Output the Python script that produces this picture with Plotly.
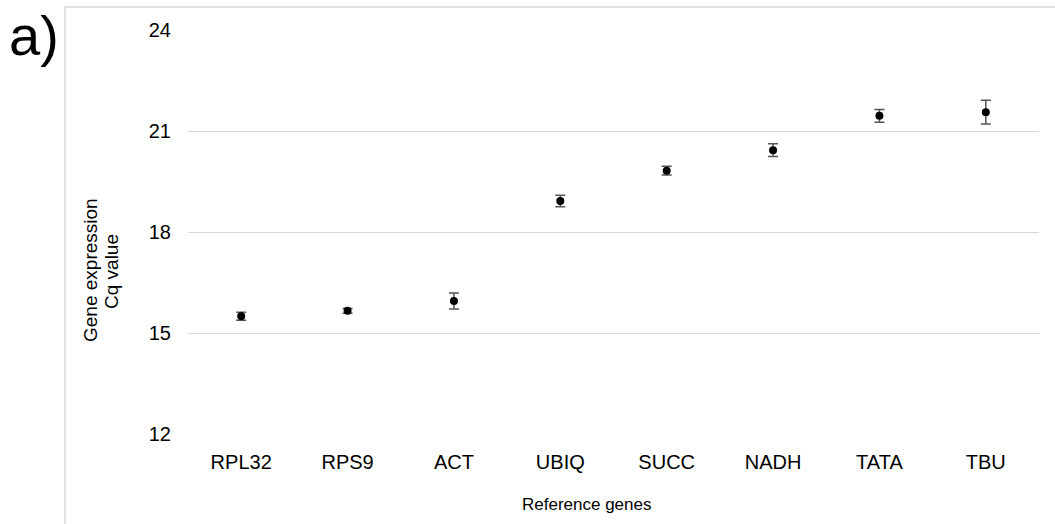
import plotly.graph_objects as go

genes = ["RPL32", "RPS9", "ACT", "UBIQ", "SUCC", "NADH", "TATA", "TBU"]
cq_mean = [15.50, 15.66, 15.95, 18.92, 19.82, 20.43, 21.45, 21.56]
cq_err = [0.12, 0.07, 0.24, 0.17, 0.13, 0.19, 0.19, 0.35]
y_ticks = [12, 15, 18, 21, 24]

FONT = "Liberation Sans, Arial, sans-serif"

L, R, T, B = 188, 16, 30, 90
W, H = 1055, 524
PW, PH = W - L - R, H - T - B


def px(x):
    return (x - L) / PW


def py(y):
    return (H - B - y) / PH


fig = go.Figure()
fig.add_trace(go.Scatter(
    x=genes, y=cq_mean, mode="markers",
    marker=dict(color="black", size=8),
    error_y=dict(type="data", array=cq_err, visible=True,
                 color="#555555", thickness=1.5, width=5),
    showlegend=False,
))

fig.update_layout(
    width=W, height=H,
    margin=dict(l=L, r=R, t=T, b=B),
    plot_bgcolor="white", paper_bgcolor="white",
    font=dict(family=FONT, color="black", size=16),
    xaxis=dict(
        range=[-0.5, 7.5], showgrid=False, zeroline=False, showline=False,
        ticks="", tickfont=dict(size=20), ticklabelstandoff=14,
    ),
    yaxis=dict(
        range=[12, 24], tickvals=y_ticks, showgrid=True, gridcolor="#d9d9d9",
        gridwidth=1, zeroline=False, showline=False, ticks="",
        tickfont=dict(size=20), ticklabelstandoff=16,
    ),
    shapes=[dict(type="rect", xref="paper", yref="paper",
                 x0=px(65), x1=px(1070), y0=py(540), y1=py(7),
                 line=dict(color="#d9d9d9", width=1.5), fillcolor="rgba(0,0,0,0)",
                 layer="below")],
    annotations=[
        dict(text="a)", xref="paper", yref="paper",
             x=px(34), y=py(35), xanchor="center", yanchor="middle",
             showarrow=False, font=dict(size=56, family=FONT, color="black")),
        dict(text="Reference genes", xref="paper", yref="paper",
             x=px(586), y=py(504), xanchor="center", yanchor="middle",
             showarrow=False, font=dict(size=17)),
        dict(text="Gene expression", xref="paper", yref="paper",
             x=px(90), y=py(270), xanchor="center", yanchor="middle",
             textangle=-90, showarrow=False, font=dict(size=19)),
        dict(text="Cq value", xref="paper", yref="paper",
             x=px(111), y=py(272), xanchor="center", yanchor="middle",
             textangle=-90, showarrow=False, font=dict(size=19)),
    ],
)

fig.write_html("out.html")
